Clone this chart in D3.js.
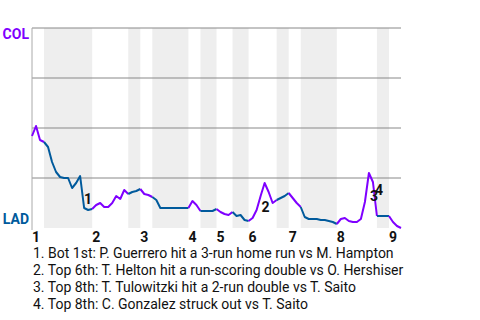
<!DOCTYPE html>
<html>
<head>
<meta charset="utf-8">
<script src="https://cdn.jsdelivr.net/npm/d3@7"></script>
<style>
  body { margin: 0; background: #fff; }
  text { font-family: Roboto, "Noto Sans", sans-serif; }
</style>
</head>
<body>
<div id="wrapper"></div>
<script>
// plate appearances per half inning (1T, 1B, 2T, ...)
const halfPAs = [3, 12, 9, 3, 3, 9, 3, 4, 4, 4, 7, 3, 3, 9, 10, 3, 3];
const inningLabels = ["1", "2", "3", "4", "5", "6", "7", "8", "9"];

// COL win probability (%) after each plate appearance
const winProb = [
  46, 51, 44, 43, 40.5, 33, 28, 25.5, 25, 25, 20, 22.5, 26, 10, 9, 9.5,
  11.5, 12.5, 10.5, 10.5, 12.5, 16, 14.5, 19, 17,
  18, 18.5, 19.5,
  17, 16.5, 15.5,
  14, 10, 10, 10, 10, 10, 10, 10, 10,
  13.5, 11.5, 8.5,
  8.5, 8.5, 8.5, 9.5,
  8, 7, 6.5, 8,
  6, 6.5, 4, 3.5,
  5, 9, 16, 22.5, 18, 12.5, 14,
  15, 16, 17.5,
  15, 12.5, 10.5,
  5.5, 4.5, 4.5, 4.5, 4, 4, 3.5, 3, 2,
  4.5, 5, 3.5, 3, 3, 4.5, 13, 27.5, 23, 6,
  6, 6, 6,
  3, 1, 0
];

const teams = ["COL", "LAD"];
const teamColors = ["#7f00ff", "#005a9c"];

const eventIndex = [13, 58, 84, 86];
const eventLabels = ["1", "2", "3", "4"];
const eventTexts = [
  "1. Bot 1st: P. Guerrero hit a 3-run home run vs M. Hampton",
  "2. Top 6th: T. Helton hit a run-scoring double vs O. Hershiser",
  "3. Top 8th: T. Tulowitzki hit a 2-run double vs T. Saito",
  "4. Top 8th: C. Gonzalez struck out vs T. Saito"
];

const width = 480, height = 320;
const margin = { top: 28, left: 32, right: 79, bottom: 92 };

const svg = d3.select("#wrapper").append("svg")
  .attr("width", width)
  .attr("height", height);

const totalPAs = d3.sum(halfPAs);
const cum = [0];
halfPAs.forEach(n => cum.push(cum[cum.length - 1] + n));

const xScale = d3.scaleLinear()
  .domain([0, totalPAs])
  .range([margin.left, width - margin.right]);

const yScale = d3.scaleLinear()
  .domain([0, 100])
  .range([height - margin.bottom, margin.top]);

// bottom half-inning shading
halfPAs.forEach((n, i) => {
  if (i % 2 === 1) {
    svg.append("rect")
      .attr("x", xScale(cum[i]))
      .attr("y", margin.top)
      .attr("width", xScale(cum[i + 1]) - xScale(cum[i]))
      .attr("height", yScale(0) - margin.top)
      .attr("fill", "#eeeeee");
  }
});

// gridlines
svg.append("g")
  .selectAll("line")
  .data([25, 50, 75, 100])
  .join("line")
    .attr("x1", xScale(0))
    .attr("x2", xScale(totalPAs))
    .attr("y1", d => yScale(d))
    .attr("y2", d => yScale(d))
    .attr("stroke", "#888")
    .attr("stroke-width", 1);

svg.append("line")
  .attr("x1", margin.left).attr("x2", margin.left)
  .attr("y1", margin.top).attr("y2", yScale(0) + 2)
  .attr("stroke", "#aaa")
  .attr("stroke-width", 1);

// team labels
svg.append("text")
  .attr("x", margin.left - 3).attr("y", yScale(100) + 11)
  .attr("text-anchor", "end")
  .attr("font-weight", "bold").attr("font-size", 14)
  .attr("fill", teamColors[0])
  .text(teams[0]);

svg.append("text")
  .attr("x", margin.left - 3).attr("y", yScale(0) - 4)
  .attr("text-anchor", "end")
  .attr("font-weight", "bold").attr("font-size", 14)
  .attr("fill", teamColors[1])
  .text(teams[1]);

// inning ticks
svg.append("g")
  .selectAll("text")
  .data(inningLabels)
  .join("text")
    .attr("x", (d, i) => xScale(cum[i * 2]) + 4)
    .attr("y", yScale(0) + 14)
    .attr("text-anchor", "middle")
    .attr("font-weight", "bold").attr("font-size", 14)
    .attr("fill", "#111")
    .text(d => d);

// the line, one piece per half inning
const line = d3.line()
  .x(i => xScale(i))
  .y(i => yScale(winProb[i]));

halfPAs.forEach((n, h) => {
  const idx = d3.range(cum[h], cum[h + 1] + 1);
  svg.append("path")
    .attr("d", line(idx))
    .attr("fill", "none")
    .attr("stroke", teamColors[h % 2])
    .attr("stroke-width", 2)
    .attr("stroke-linejoin", "round");
});

// event markers
const labelOffsets = [[4, -4], [1, 29], [5, 28], [2, -21]];
eventIndex.forEach((e, i) => {
  svg.append("text")
    .attr("x", xScale(e) + labelOffsets[i][0])
    .attr("y", yScale(winProb[e]) + labelOffsets[i][1])
    .attr("text-anchor", "middle")
    .attr("font-weight", "bold").attr("font-size", 14)
    .attr("fill", "#111")
    .text(eventLabels[i]);
});

// legend
svg.append("g")
  .selectAll("text")
  .data(eventTexts)
  .join("text")
    .attr("x", margin.left + 1)
    .attr("y", (d, i) => 258 + i * 17)
    .attr("font-size", 14)
    .attr("fill", "#111")
    .text(d => d);
</script>
</body>
</html>
